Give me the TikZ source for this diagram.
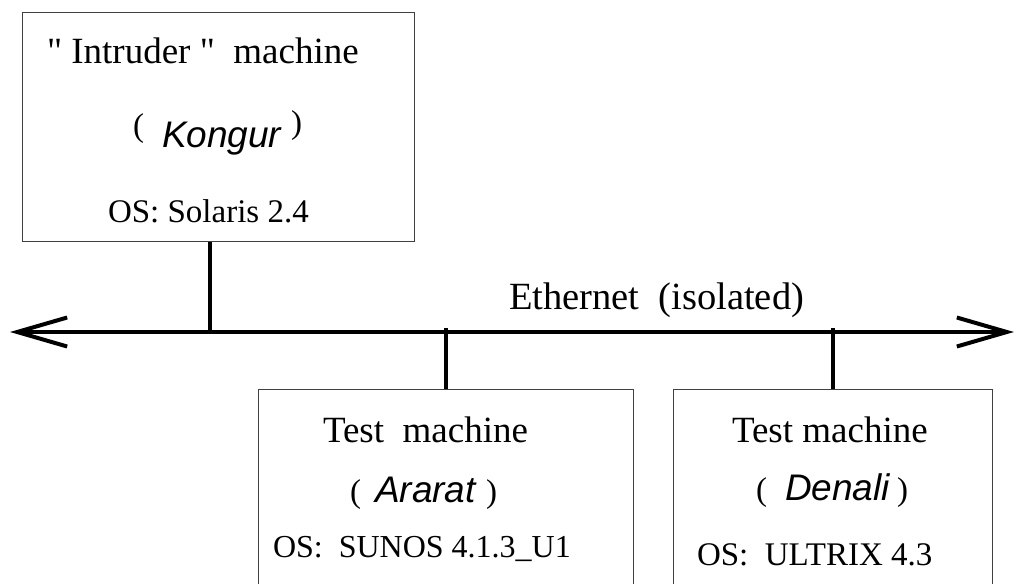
\documentclass[tikz,border=0pt]{standalone}
\usepackage{fontspec}
\setmainfont{Liberation Serif}
\newfontfamily\hvfont{Liberation Sans}
\newfontfamily\rmplain{Liberation Serif}
\usetikzlibrary{arrows.meta}
\tikzset{
  machbox/.style={draw=black!75, line width=1.2pt, fill=none, inner sep=0pt, anchor=north west},
  txt/.style={inner sep=0pt, outer sep=0pt, anchor=base west},
  bigtxt/.style={font=\fontsize{37}{40}\selectfont},
  midtxt/.style={font=\fontsize{33}{36}\selectfont},
  parentxt/.style={font=\fontsize{33}{36}\selectfont},
  hosttxt/.style={font=\fontsize{37}{40}\selectfont\hvfont\itshape},
  wire/.style={line width=4pt},
  bus/.style={line width=4pt, {Straight Barb[length=50pt,width=29pt]}-{Straight Barb[length=50pt,width=29pt]}}
}
\begin{document}
\begin{tikzpicture}[x=1pt,y=-1pt]
\clip (0,0) rectangle (1018,584);
\fill[white] (0,0) rectangle (1018,584);
% boxes
\node[machbox, minimum width=392pt, minimum height=229pt] (intr) at (22,12) {};
\node[machbox, minimum width=375pt, minimum height=220pt] (ararat) at (258,389) {};
\node[machbox, minimum width=319pt, minimum height=220pt] (denali) at (673,389) {};
% bus
\coordinate (busL) at (10,332);
\coordinate (busR) at (1014,332);
\draw[bus] (busL) -- (busR);
\coordinate (t1) at (210,332);
\coordinate (t2) at (446,328);
\coordinate (t3) at (833,328);
\draw[wire] (intr.south -| t1) -- (t1);
\draw[wire] (t2) -- (ararat.north -| t2);
\draw[wire] (t3) -- (denali.north -| t3);
% Ethernet label
\node[txt, font=\fontsize{38.5}{40}\selectfont] (eth) at (509,309) {Ethernet\ \ (isolated)};
% intruder box
\node[txt, bigtxt] (i1) at (47,63) {{\rmplain"} Intruder {\rmplain"}\ \ machine};
\node[txt, parentxt] (i2a) at (133,136) {(};
\node[txt, hosttxt] (i2) at (162,147) {Kongur};
\node[txt, parentxt] (i2b) at (291,133) {)};
\node[txt, midtxt] (i3) at (108,222) {OS: Solaris 2.4};
% ararat box
\node[txt, bigtxt] (a1) at (323,442) {Test\ \ machine};
\node[txt, parentxt] (a2a) at (350,502) {(};
\node[txt, hosttxt] (a2) at (375,502) {Ararat};
\node[txt, parentxt, anchor=base east] (a2b) at (497,502) {)};
\node[txt, font=\fontsize{32}{35}\selectfont] (a3) at (273,557) {OS:\ \ SUNOS 4.1.3\_U1};
% denali box
\node[txt, bigtxt] (d1) at (732,442) {Test machine};
\node[txt, parentxt] (d2a) at (756,500) {(};
\node[txt, hosttxt] (d2) at (785,500) {Denali};
\node[txt, parentxt, anchor=base east] (d2b) at (908,500) {)};
\node[txt, midtxt] (d3) at (697,565) {OS:\ \ ULTRIX 4.3};
\end{tikzpicture}
\end{document}
